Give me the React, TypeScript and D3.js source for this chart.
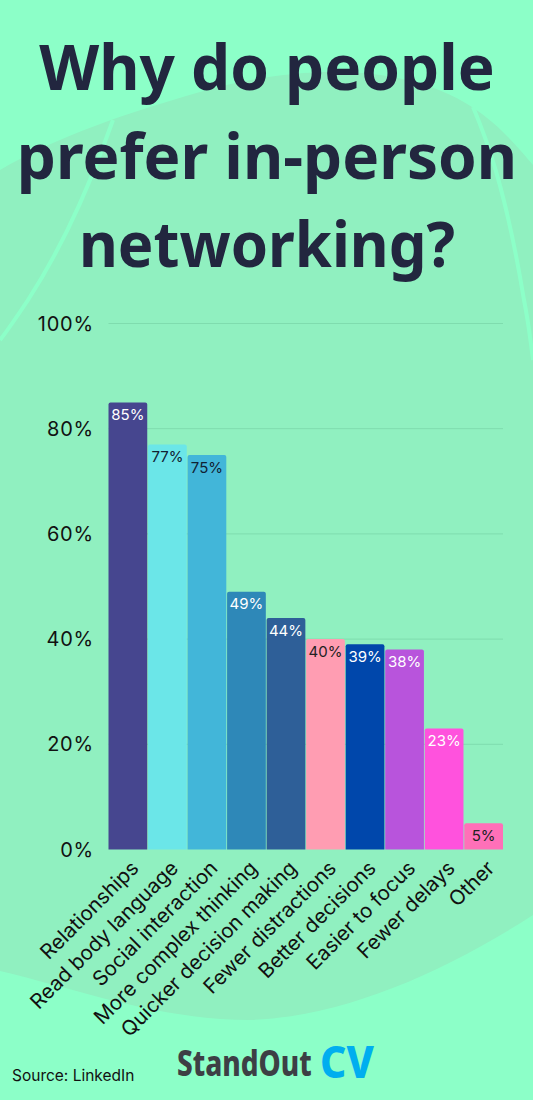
import * as d3 from "d3";
import React from "react";

const categories = ["Relationships", "Read body language", "Social interaction", "More complex thinking", "Quicker decision making", "Fewer distractions", "Better decisions", "Easier to focus", "Fewer delays", "Other"];
const values = [85, 77, 75, 49, 44, 40, 39, 38, 23, 5];
const barColors = ["#46468f", "#6be6e8", "#42b6d9", "#2e88b8", "#2e5f98", "#ff9db2", "#0047ab", "#b854dc", "#ff52dd", "#ff70b8"];
const labelColors = ["#fff", "#123", "#123", "#fff", "#fff", "#222", "#fff", "#fff", "#fff", "#222"];
const yTicks = [0, 20, 40, 60, 80, 100];
const titleLines = ["Why do people", "prefer in-person", "networking?"];

const WIDTH = 533;
const HEIGHT = 1100;

const App: React.FC = () => {
    const x = d3.scaleBand<string>().domain(categories).range([108.5, 503]).paddingInner(0.02);
    const y = d3.scaleLinear().domain([0, 100]).range([849.5, 323.5]);

    // soft blob behind the chart
    const blob = "M0,170 C60,135 130,112 200,92 C290,66 400,60 472,107 C500,125 520,150 533,165 L533,915 C440,975 340,1017 250,1020 C160,1020 80,990 0,971 Z";

    // bar with slightly rounded top corners
    const barPath = (c: string, v: number) => {
        const p = d3.path();
        const x0 = x(c)!;
        const x1 = x0 + x.bandwidth();
        p.moveTo(x0, y(0));
        p.lineTo(x0, y(v) + 2);
        p.arcTo(x0, y(v), x0 + 2, y(v), 2);
        p.lineTo(x1 - 2, y(v));
        p.arcTo(x1, y(v), x1, y(v) + 2, 2);
        p.lineTo(x1, y(0));
        p.closePath();
        return p.toString();
    };

    return (
        <svg width={WIDTH} height={HEIGHT} style={{ position: "absolute", top: 0, left: 0 }}>
            <rect width={WIDTH} height={HEIGHT} fill="#8cffc8" />
            <path d={blob} fill="#90f0c0" />
            <path d="M113,120 C95,170 70,235 28,300 C18,315 8,330 0,340" fill="none" stroke="#8cffc8" strokeWidth={4} />
            <path d="M473,107 C485,135 505,185 524,300 C527,315 530,335 533,360" fill="none" stroke="#8cffc8" strokeWidth={4} />

            {titleLines.map((line, i) => (
                <text key={line} x={267} y={90 + i * 88.7} textAnchor="middle" fontFamily="Noto Sans" fontWeight={700} fontSize={62} textLength={i === 2 ? 376 : undefined} lengthAdjust="spacingAndGlyphs" fill="#22263f">{line}</text>
            ))}

            {yTicks.filter(t => t > 0).map(t => (
                <line key={t} x1={108.5} x2={503} y1={y(t)} y2={y(t)} stroke="#7fdcae" strokeWidth={1} />
            ))}
            {yTicks.map(t => (
                <text key={t} x={94} y={y(t)} dy={7} textAnchor="end" fontFamily="Inter" fontSize={20} letterSpacing={0.8} fill="#111">{t}%</text>
            ))}

            {categories.map((c, i) => (
                <g key={c}>
                    <path d={barPath(c, values[i])} fill={barColors[i]} />
                    <text x={x(c)! + x.bandwidth() / 2} y={y(values[i]) + 17.5} textAnchor="middle" fontFamily="Inter" fontSize={15} fill={labelColors[i]}>{values[i]}%</text>
                    <text transform={`translate(${x(c)! + x.bandwidth() / 2 + 12},${y(0) + 20}) rotate(-45)`} textAnchor="end" fontFamily="Inter" fontSize={20.5} fill="#111">{c}</text>
                </g>
            ))}

            <text x={12} y={1081} fontFamily="Inter" fontSize={15.5} fill="#111">Source: LinkedIn</text>
            <text transform="translate(177,1076) scale(0.8,1)" fontFamily="Noto Sans" fontWeight={800} fontSize={35} fill="#3d3f45">StandOut</text>
            <text transform="translate(320,1078) scale(0.93,1)" fontFamily="Noto Sans" fontWeight={800} fontSize={44} fill="#00aeef">CV</text>
        </svg>
    );
};

export default App;
